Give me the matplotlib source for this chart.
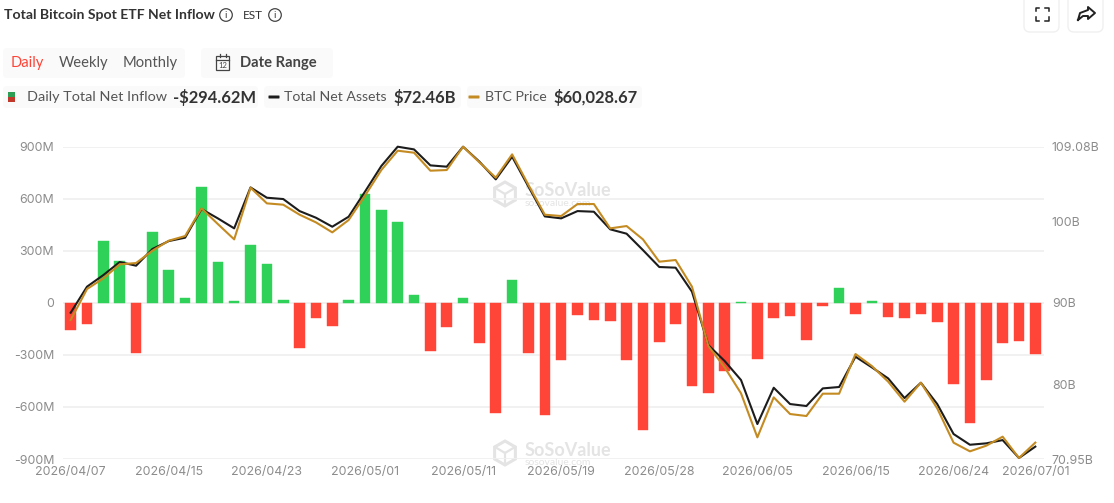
#!/usr/bin/env python3
import matplotlib
matplotlib.use('Agg')
import matplotlib.pyplot as plt
from matplotlib.patches import Circle, FancyBboxPatch, Rectangle, RegularPolygon

W, H = 1114, 503

# trading-day index of each labelled date
tick_idx = [0, 6, 12, 18, 24, 30, 36, 42, 48, 54, 59]
tick_dates = ['2026/04/07', '2026/04/15', '2026/04/23', '2026/05/01', '2026/05/11', '2026/05/19',
              '2026/05/28', '2026/06/05', '2026/06/15', '2026/06/24', '2026/07/01']

# daily net inflow, $M
net_inflow = [-158, -121, 358, 240, -288, 411, 187, 27, 665, 238,
              12, 336, 223, 15, -261, -87, -135, 15, 629, 533,
              467, 46, -275, -142, 27, -231, -633, 131, -287, -646,
              -329, -69, -98, -104, -331, -731, -225, -123, -481, -517,
              -394, 3, -323, -88, -75, -212, -17, 85, -63, 10,
              -79, -88, -67, -111, -467, -694, -442, -229, -221, -294.62]

# total net assets, $B
net_assets = [88.81, 91.99, 93.41, 95.00, 94.55, 96.59, 97.56, 97.97, 101.47, 100.33,
              99.11, 104.11, 102.85, 102.69, 101.22, 100.41, 99.31, 100.53, 103.59, 106.72,
              109.08, 108.75, 106.80, 106.64, 109.08, 107.25, 105.09, 107.86, 104.20, 100.57,
              100.33, 101.22, 101.14, 98.99, 98.46, 96.46, 94.39, 94.31, 91.38, 84.86,
              82.91, 80.59, 75.22, 79.65, 77.66, 77.42, 79.57, 79.74, 83.44, 82.14,
              80.79, 78.39, 80.26, 77.66, 74.00, 72.69, 72.86, 73.26, 71.07, 72.46]

# BTC close, $
btc_price = [69130, 71432, 72224, 73263, 73362, 74278, 75020, 75367, 77421, 76258,
             75119, 78956, 77792, 77693, 76951, 76382, 75639, 76555, 78362, 80267,
             81703, 81554, 80218, 80267, 82000, 80837, 79698, 81431, 79154, 76951,
             76852, 77743, 77743, 75936, 76109, 75119, 73461, 73585, 71605, 67199,
             65615, 63685, 60418, 63388, 62150, 62002, 63660, 63660, 66605, 65714,
             64551, 63066, 64477, 62571, 60022, 59378, 59799, 60467, 58883, 60028.67]

left_ticks = [900, 600, 300, 0, -300, -600, -900]
left_labels = ['900M', '600M', '300M', '0', '-300M', '-600M', '-900M']
right_ticks = [109.08, 100, 90, 80, 70.95]
right_labels = ['109.08B', '100B', '90B', '80B', '70.95B']

RED = '#ff4438'
GREEN = '#30d158'
BLACK = '#1c1c1c'
GOLD = '#c48b22'
TICK = '#8c8c8c'
HEAD = 'Lato'
TICK_FONT = 'Inter'


def box(ax, x0, y0, x1, y1, fc='#fafafa', ec='none', r=4, lw=1):
    ax.add_patch(FancyBboxPatch((x0 + r, y0 + r), x1 - x0 - 2 * r, y1 - y0 - 2 * r,
                                boxstyle=f'round,pad={r},rounding_size={r}', fc=fc, ec=ec, lw=lw))


def info_icon(ax, x, y):
    ax.add_patch(Circle((x, y), 6.3, fc='none', ec='#444444', lw=0.9))
    ax.text(x, y + 0.3, 'i', ha='center', va='center', fontsize=7.5, color='#444444', family=HEAD)


def watermark(ax, y):
    c = '#e4e4e4'
    ax.add_patch(RegularPolygon((505, y + 3), 6, radius=12, fc='none', ec=c, lw=2.2))
    ax.plot([495, 505, 515], [y - 3, y + 3, y - 3], color=c, lw=1.6)
    ax.plot([505, 505], [y + 3, y + 14], color=c, lw=1.6)
    ax.text(525, y, 'SoSoValue', fontsize=13, fontweight='bold', color=c, family=HEAD, va='center')
    ax.text(525, y + 12.5, 'sosovalue.com', fontsize=7.5, color=c, family=HEAD, va='center')


fig = plt.figure(figsize=(W / 100, H / 100), dpi=100)
fig.patch.set_facecolor('white')

# page furniture lives on a pixel-coordinate layer under the chart
page = fig.add_axes([0, 0, 1, 1], zorder=0)
page.set_xlim(0, W)
page.set_ylim(H, 0)
page.axis('off')

page.text(4, 15, 'Total Bitcoin Spot ETF Net Inflow', fontsize=10.1, fontweight='bold', color='#333333',
          family=HEAD, va='center')
info_icon(page, 226, 15)
page.text(243, 15, 'EST', fontsize=8.5, color='#333333', family=HEAD, va='center')
info_icon(page, 275, 15)

box(page, 3, 48, 185, 78)
box(page, 201, 48, 333, 78)
page.text(11, 63, 'Daily', fontsize=10.6, color=RED, family=HEAD, va='center')
page.text(59, 63, 'Weekly', fontsize=10.6, color='#555555', family=HEAD, va='center')
page.text(123, 63, 'Monthly', fontsize=10.6, color='#555555', family=HEAD, va='center')
page.add_patch(Rectangle((216, 56), 13, 14, fc='none', ec='#444444', lw=0.9))
page.plot([216, 229], [60, 60], color='#444444', lw=0.9)
page.plot([219.5, 219.5], [54, 57], color='#444444', lw=0.9)
page.plot([225.5, 225.5], [54, 57], color='#444444', lw=0.9)
page.text(222.5, 65.5, '12', fontsize=5.5, color='#444444', ha='center', va='center', family=HEAD)
page.text(240, 63, 'Date Range', fontsize=10.6, fontweight='bold', color='#444444', family=HEAD, va='center')

box(page, 3, 86, 258, 108)
box(page, 264, 86, 461, 108)
box(page, 467, 86, 642, 108)
page.add_patch(Rectangle((8, 92), 7, 5, fc='#2f9e55', ec='none'))
page.add_patch(Rectangle((8, 97), 7, 5, fc='#c0392b', ec='none'))
page.text(27, 97, 'Daily Total Net Inflow', fontsize=10.4, color='#555555', family=HEAD, va='center')
page.text(173, 97, '-$294.62M', fontsize=11.9, fontweight='bold', color='#333333', family=HEAD, va='center')
page.add_patch(FancyBboxPatch((269, 96), 10, 2, boxstyle='round,pad=0.5', fc=BLACK, ec='none'))
page.text(284, 97, 'Total Net Assets', fontsize=10.2, color='#555555', family=HEAD, va='center')
page.text(394, 97, '$72.46B', fontsize=11.9, fontweight='bold', color='#333333', family=HEAD, va='center')
page.add_patch(FancyBboxPatch((469, 96), 10, 2, boxstyle='round,pad=0.5', fc=GOLD, ec='none'))
page.text(485, 97, 'BTC Price', fontsize=10.2, color='#555555', family=HEAD, va='center')
page.text(553, 97, '$60,028.67', fontsize=11.9, fontweight='bold', color='#333333', family=HEAD, va='center')

# fullscreen and share buttons
box(page, 1024, -8, 1059, 32, fc='white', ec='#f0f0f0', r=6)
box(page, 1068, -8, 1103, 32, fc='white', ec='#f0f0f0', r=6)
for sx, sy in [(-1, -1), (1, -1), (-1, 1), (1, 1)]:
    cx, cy = 1042 + sx * 6.5, 14 + sy * 6.5
    page.plot([cx, cx, cx - sx * 3.5], [cy - sy * 3.5, cy, cy], color='#222222', lw=1.1)
page.plot([1078, 1080, 1088, 1088, 1095, 1088, 1088, 1083, 1078], [20, 13, 10, 7, 13, 19, 16, 16, 20],
          color='#222222', lw=1.4)

watermark(page, 191)
watermark(page, 450)

# chart axes, placed by pixel edges of the plot area
x0, x1, y_top, y_bot = 62.5, 1043.5, 146.7, 459
ax = fig.add_axes([x0 / W, 1 - y_bot / H, (x1 - x0) / W, (y_bot - y_top) / H], zorder=1)
ax.patch.set_visible(False)
ax.set_xlim(-0.5, 59.5)
ax.set_ylim(-900, 900)
for s in ax.spines.values():
    s.set_visible(False)
ax.set_axisbelow(True)
ax.grid(axis='y', color='#f0f0f0', lw=1.3)
ax.set_yticks(left_ticks, left_labels, family=TICK_FONT)
ax.set_xticks(tick_idx, tick_dates, family=TICK_FONT)
ax.tick_params(axis='y', length=0, pad=6, labelsize=8.9, labelcolor=TICK)
ax.tick_params(axis='x', length=0, pad=5, labelsize=8.9, labelcolor=TICK)

xs = list(range(len(net_inflow)))
colors = [GREEN if v >= 0 else RED for v in net_inflow]
ax.bar(xs, net_inflow, width=0.65, color=colors, edgecolor=colors, lw=0.3, joinstyle='round', zorder=2)

ax_assets = ax.twinx()
ax_assets.set_ylim(70.95, 109.08)
ax_assets.set_yticks(right_ticks, right_labels, family=TICK_FONT)
ax_assets.tick_params(axis='y', length=0, pad=6, labelsize=8.9, labelcolor=TICK)
ax_assets.plot(xs, net_assets, color=BLACK, lw=1.5, clip_on=False, zorder=3)

# BTC price has its own scale, no axis drawn
ax_btc = ax.twinx()
ax_btc.set_ylim(58810, 82000)
ax_btc.axis('off')
ax_btc.plot(xs, btc_price, color=GOLD, lw=1.5, clip_on=False, zorder=4)

for a in (ax_assets, ax_btc):
    a.patch.set_visible(False)
    for s in a.spines.values():
        s.set_visible(False)

fig.savefig('out.png', dpi=100)
